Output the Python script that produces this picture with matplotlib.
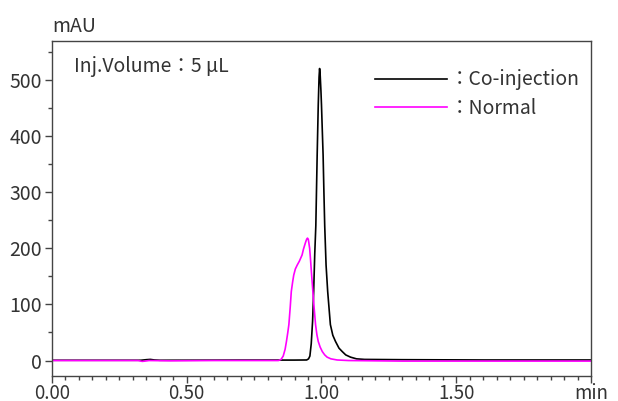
import matplotlib.pyplot as plt
from matplotlib.ticker import MultipleLocator

plt.rcParams['font.family'] = ['Noto Sans CJK JP', 'DejaVu Sans']

# chromatogram traces (time in min, signal in mAU)
t_co = [0, 0.33, 0.35, 0.365, 0.38, 0.40, 0.70, 0.90, 0.945, 0.952, 0.957, 0.962,
        0.967, 0.971, 0.975, 0.979, 0.984, 0.988, 0.991, 0.993, 0.995, 0.998, 1.0,
        1.003, 1.006, 1.009, 1.012, 1.017, 1.023, 1.033, 1.042, 1.052, 1.065,
        1.077, 1.09, 1.108, 1.13, 1.16, 1.3, 1.6, 2.0]
y_co = [0.5, 0.5, 1.5, 2, 1, 0.5, 0.8, 0.8, 1, 3, 8, 30,
        70, 123, 190, 240, 366, 455, 505, 520, 510, 480, 455,
        410, 366, 300, 240, 170, 123, 64, 45, 34, 22,
        16, 10, 6, 3, 2, 1.5, 1, 1]

t_norm = [0, 0.32, 0.335, 0.345, 0.36, 0.44, 0.6, 0.84, 0.85, 0.858, 0.865, 0.870,
          0.875, 0.879, 0.884, 0.888, 0.893, 0.897, 0.903, 0.910, 0.918, 0.928,
          0.933, 0.938, 0.942, 0.945, 0.948, 0.951, 0.953, 0.956, 0.959, 0.963,
          0.968, 0.973, 0.978, 0.983, 0.988, 0.995, 1.003, 1.012, 1.021, 1.035,
          1.058, 1.1, 1.3, 2.0]
y_norm = [0, 0, -1.5, -1, 0, -0.5, 0, 0, 2, 8, 20, 34,
          50, 64, 95, 123, 140, 152, 163, 170, 177, 188,
          198, 206, 212, 216, 218, 216, 210, 200, 182, 155,
          123, 92, 64, 46, 34, 24, 16, 10, 6, 3,
          1, 0, -1, -1]

x_ticks = [0, 0.5, 1.0, 1.5, 2.0]
x_labels = ['0.00', '0.50', '1.00', '1.50', 'min']
y_ticks = [0, 100, 200, 300, 400, 500]

txt = '#333333'
fig = plt.figure(figsize=(6.18, 4.01), dpi=100)
ax = fig.add_axes([0.0841, 0.0631, 0.8722, 0.8347])

ax.plot(t_co, y_co, color='black', lw=1.2, label='：Co-injection')
ax.plot(t_norm, y_norm, color='#ff00ff', lw=1.2, label='：Normal')

ax.set_xlim(0, 2.0)
ax.set_ylim(-27, 569)
ax.set_xticks(x_ticks)
ax.set_xticklabels(x_labels)
ax.set_yticks(y_ticks)
ax.xaxis.set_minor_locator(MultipleLocator(0.05))
ax.yaxis.set_minor_locator(MultipleLocator(50))
ax.tick_params(which='major', length=5, width=1, color='#444444', labelsize=14, labelcolor=txt, pad=2)
ax.tick_params(axis='x', which='major', pad=0, labelsize=13.5)
ax.tick_params(which='minor', length=3, width=1, color='#444444')
for s in ax.spines.values():
    s.set_color('#444444')
    s.set_linewidth(1)

fig.text(0.0841, 0.935, 'mAU', fontsize=14, color=txt, ha='left', va='center')
ax.text(0.04, 0.925, 'Inj.Volume：5 μL', transform=ax.transAxes, fontsize=14,
        color=txt, ha='left', va='center')

leg = ax.legend(loc='upper right', frameon=False, fontsize=14, handlelength=3.7,
                handletextpad=0.1, labelspacing=0.4, borderaxespad=0.2,
                bbox_to_anchor=(1.0, 0.95))
for t in leg.get_texts():
    t.set_color(txt)

fig.savefig('out.png', dpi=100)
